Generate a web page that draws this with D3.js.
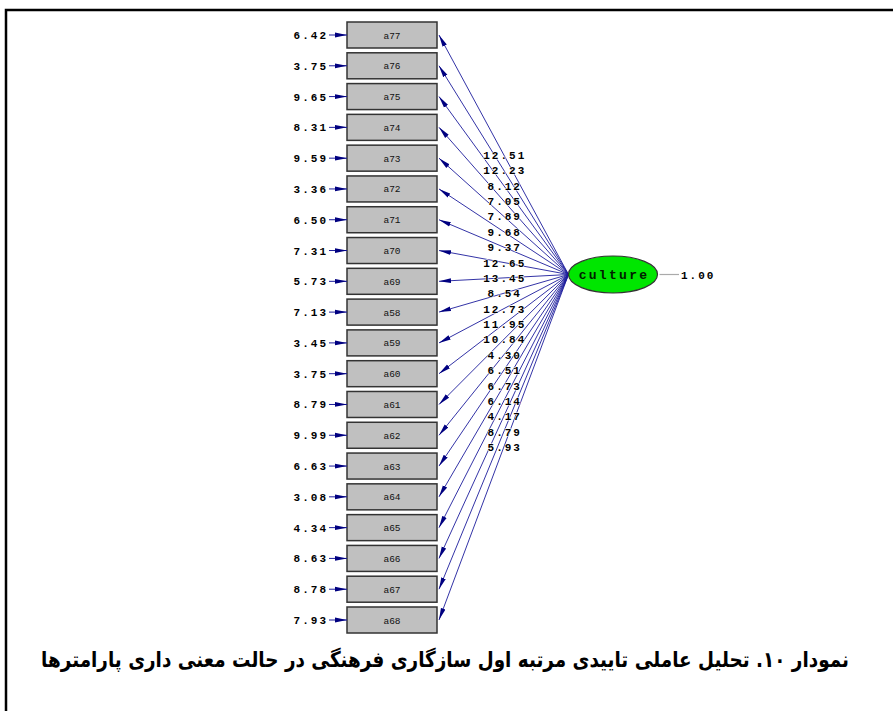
<!DOCTYPE html>
<html><head><meta charset="utf-8">
<script src="https://cdn.jsdelivr.net/npm/d3@7"></script>
<style>body{margin:0;background:#fff}svg{display:block}</style>
</head><body>
<script>
const indicators = ["a77","a76","a75","a74","a73","a72","a71","a70","a69","a58","a59","a60","a61","a62","a63","a64","a65","a66","a67","a68"];
const errorValues = ["6.42","3.75","9.65","8.31","9.59","3.36","6.50","7.31","5.73","7.13","3.45","3.75","8.79","9.99","6.63","3.08","4.34","8.63","8.78","7.93"];
const loadingValues = ["12.51","12.23","8.12","7.05","7.89","9.68","9.37","12.65","13.45","8.54","12.73","11.95","10.84","4.30","6.51","6.73","6.14","4.17","8.79","5.93"];
const factorName = "culture";
const factorVariance = "1.00";
const caption = "نمودار ۱۰. تحلیل عاملی تاییدی مرتبه اول سازگاری فرهنگی در حالت معنی داری پارامترها";

const W = 893, H = 711;
const svg = d3.select("body").append("svg").attr("width", W).attr("height", H);

const defs = svg.append("defs");
defs.append("marker").attr("id","ah").attr("viewBox","0 0 12 6").attr("refX",12).attr("refY",3)
  .attr("markerWidth",12).attr("markerHeight",6).attr("markerUnits","userSpaceOnUse").attr("orient","auto")
  .append("path").attr("d","M0,0.6 L12,3 L0,5.4 Z").attr("fill","#000080");

// frame
svg.append("path").attr("d",`M6,${H} L6,10 L${W},10`).attr("fill","none").attr("stroke","#000").attr("stroke-width",2.5);

const y = d3.scalePoint().domain(indicators).range([35, 620]);
const boxX = 347, boxW = 90, boxH = 26;
const ell = {cx: 613, cy: 274.5, rx: 44.5, ry: 18.5};
const origin = [ell.cx - ell.rx, ell.cy];
const mono = "'Liberation Mono', 'DejaVu Sans Mono', monospace";

// loading paths
const gl = svg.append("g");
indicators.forEach((name, i) => {
  gl.append("line").attr("x1", origin[0]).attr("y1", origin[1])
    .attr("x2", boxX + boxW + 2).attr("y2", y(name))
    .attr("stroke","#1c1c9c").attr("stroke-width",0.9).attr("marker-end","url(#ah)");
});
// loading labels
indicators.forEach((name, i) => {
  const mx = (origin[0] + boxX + boxW + 2) / 2, my = (origin[1] + y(name)) / 2;
  svg.append("text").attr("x", mx + 1).attr("y", my + 4).attr("text-anchor","middle")
    .attr("font-family", mono).attr("font-size", 11).attr("font-weight","bold").attr("letter-spacing", 2)
    .attr("fill","#000").attr("stroke","#fff").attr("stroke-width",1).attr("paint-order","stroke")
    .text(loadingValues[i]);
});

// boxes
const gb = svg.append("g");
indicators.forEach((name, i) => {
  const cy = y(name);
  gb.append("rect").attr("x", boxX).attr("y", cy - boxH/2).attr("width", boxW).attr("height", boxH)
    .attr("fill","#c0c0c0").attr("stroke","#333").attr("stroke-width",1.5);
  gb.append("text").attr("x", boxX + boxW/2).attr("y", cy + 3.5).attr("text-anchor","middle")
    .attr("font-family", mono).attr("font-size", 9.5).attr("fill","#111").text(name);
  // error arrow
  gb.append("line").attr("x1", 329).attr("y1", cy).attr("x2", boxX).attr("y2", cy)
    .attr("stroke","#1c1c9c").attr("stroke-width",1).attr("marker-end","url(#ah)");
  gb.append("text").attr("x", 328).attr("y", cy + 4).attr("text-anchor","end")
    .attr("font-family", mono).attr("font-size", 11).attr("font-weight","bold").attr("letter-spacing", 2)
    .attr("fill","#000").text(errorValues[i]);
});

// factor
svg.append("line").attr("x1", ell.cx + ell.rx + 2).attr("y1", ell.cy).attr("x2", 679).attr("y2", ell.cy)
  .attr("stroke","#aaa").attr("stroke-width",1.2);
svg.append("text").attr("x", 681).attr("y", ell.cy + 4).attr("font-family", mono).attr("font-size", 11)
  .attr("font-weight","bold").attr("letter-spacing", 2).attr("fill","#000").text(factorVariance);
svg.append("ellipse").attr("cx", ell.cx).attr("cy", ell.cy).attr("rx", ell.rx).attr("ry", ell.ry)
  .attr("fill","#00e600").attr("stroke","#333").attr("stroke-width",1.2);
svg.append("text").attr("x", ell.cx + 1).attr("y", ell.cy + 4).attr("text-anchor","middle")
  .attr("font-family", mono).attr("font-size", 13).attr("font-weight","bold").attr("letter-spacing", 2.3).attr("fill","#002000").text(factorName);

// caption
svg.append("text").attr("transform","translate(445,667) scale(0.92,1.08)").attr("text-anchor","middle").attr("direction","rtl")
  .attr("font-family","'DejaVu Sans', 'Noto Sans', sans-serif").attr("font-weight","bold").attr("font-size", 20)
  .attr("fill","#000").text(caption);
</script>
</body></html>
